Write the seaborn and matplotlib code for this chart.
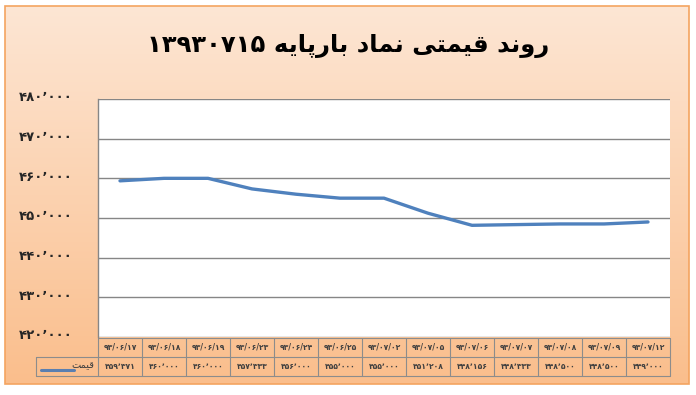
import numpy as np
import pandas as pd
import matplotlib
matplotlib.use("Agg")
import matplotlib.pyplot as plt
import matplotlib.transforms as mtransforms
import seaborn as sns
from matplotlib.patches import Rectangle
from matplotlib.lines import Line2D

# ---------------- data ----------------
title_text = "روند قیمتی نماد بارپایه ۱۳۹۳۰۷۱۵"
legend_label = "قیمت"
dates = ["۹۳/۰۶/۱۷", "۹۳/۰۶/۱۸", "۹۳/۰۶/۱۹", "۹۳/۰۶/۲۳", "۹۳/۰۶/۲۴", "۹۳/۰۶/۲۵",
         "۹۳/۰۷/۰۲", "۹۳/۰۷/۰۵", "۹۳/۰۷/۰۶", "۹۳/۰۷/۰۷", "۹۳/۰۷/۰۸", "۹۳/۰۷/۰۹",
         "۹۳/۰۷/۱۲"]
prices = [459371, 460000, 460000, 457333, 456000, 455000, 455000,
          451208, 448156, 448333, 448500, 448500, 449000]
y_ticks = [420000, 430000, 440000, 450000, 460000, 470000, 480000]

# ---------------- helpers ----------------
FA_DIGITS = str.maketrans("0123456789", "۰۱۲۳۴۵۶۷۸۹")
SEP = "\u066C"


def fa_num(v):
    s = f"{v:,}".replace(",", SEP)
    return s.translate(FA_DIGITS)


# presentation forms: isolated, final, initial, medial
FORMS = {
    "ر": ("\uFEAD", "\uFEAE", None, None),
    "و": ("\uFEED", "\uFEEE", None, None),
    "د": ("\uFEA9", "\uFEAA", None, None),
    "ا": ("\uFE8D", "\uFE8E", None, None),
    "ن": ("\uFEE5", "\uFEE6", "\uFEE7", "\uFEE8"),
    "ق": ("\uFED5", "\uFED6", "\uFED7", "\uFED8"),
    "ی": ("\uFBFC", "\uFBFD", "\uFBFE", "\uFBFF"),
    "م": ("\uFEE1", "\uFEE2", "\uFEE3", "\uFEE4"),
    "ت": ("\uFE95", "\uFE96", "\uFE97", "\uFE98"),
    "ب": ("\uFE8F", "\uFE90", "\uFE91", "\uFE92"),
    "پ": ("\uFB56", "\uFB57", "\uFB58", "\uFB59"),
    "ه": ("\uFEE9", "\uFEEA", "\uFEEB", "\uFEEC"),
}


def joins_forward(ch):
    return ch in FORMS and FORMS[ch][2] is not None


def shape_word(w):
    if not any(c in FORMS for c in w):
        return w
    out = []
    for i, ch in enumerate(w):
        if ch not in FORMS:
            out.append(ch)
            continue
        prev_j = i > 0 and joins_forward(w[i - 1])
        next_j = joins_forward(ch) and i < len(w) - 1 and w[i + 1] in FORMS
        iso, fin, ini, med = FORMS[ch]
        if prev_j and next_j:
            out.append(med)
        elif prev_j:
            out.append(fin)
        elif next_j:
            out.append(ini)
        else:
            out.append(iso)
    return "".join(out)[::-1]


def rtl(text):
    words = text.split(" ")
    return " ".join(shape_word(w) for w in reversed(words))


# ---------------- figure ----------------
sns.set_theme(style="white")
plt.rcParams["font.family"] = ["DejaVu Sans"]

W, H = 696, 395
fig = plt.figure(figsize=(W / 100, H / 100), dpi=100)
fig.patch.set_facecolor("white")

# background panel with gradient
bg = fig.add_axes([0, 0, 1, 1])
bg.set_xlim(0, W)
bg.set_ylim(H, 0)
bg.axis("off")
top = np.array([253, 230, 212]) / 255
bot = np.array([250, 190, 140]) / 255
t = np.linspace(0, 1, 200)[:, None]
grad = top[None, None, :] * (1 - t[..., None]) + bot[None, None, :] * t[..., None]
grad = np.repeat(grad, 2, axis=1)
bg.imshow(grad, extent=[5, 689, 384, 6], aspect="auto", zorder=0, interpolation="bilinear")
bg.add_patch(Rectangle((5, 6), 684, 378, fill=False, edgecolor="#F4A460", lw=1.2, zorder=1))
bg.text(348, 46, rtl(title_text), ha="center", va="center", fontsize=17.5,
        fontweight="heavy", color="black")

# main plot
x0, x1, y0, y1 = 98, 670, 99, 337
ax = fig.add_axes([x0 / W, 1 - y1 / H, (x1 - x0) / W, (y1 - y0) / H])
ax.set_facecolor("white")
df = pd.DataFrame({"idx": np.arange(len(prices)), "price": prices})
sns.lineplot(data=df, x="idx", y="price", ax=ax, color="#4F81BD", linewidth=2.4)
ax.set_xlim(-0.5, len(prices) - 0.5)
ax.set_ylim(y_ticks[0], y_ticks[-1])
ax.set_yticks(y_ticks)
ax.set_yticklabels([fa_num(v) for v in y_ticks], fontsize=9.5, fontweight="bold",
                   color="#262626")
ax.tick_params(axis="y", length=0, pad=18.5)
off = mtransforms.ScaledTranslation(0, 2 / 72, fig.dpi_scale_trans)
for lab in ax.get_yticklabels():
    lab.set_transform(lab.get_transform() + off)
ax.set_xticks([])
ax.set_xlabel("")
ax.set_ylabel("")
for v in y_ticks:
    ax.axhline(v, color="#868686", lw=1, zorder=0)
for s in ["top", "right", "bottom"]:
    ax.spines[s].set_visible(False)
ax.spines["left"].set_color("#868686")
ax.spines["left"].set_linewidth(1)

# data table below the plot (drawn in figure pixel coordinates on bg axes)
n = len(prices)
cw = (x1 - x0) / n
r1a, r1b, r2b = 338, 357, 376
gc = "#8C8C8C"
bg.add_line(Line2D([x0, x1], [r1a, r1a], color=gc, lw=0.8, zorder=3))
bg.add_line(Line2D([36, x1], [r1b, r1b], color=gc, lw=0.8, zorder=3))
bg.add_line(Line2D([36, x1], [r2b, r2b], color=gc, lw=0.8, zorder=3))
bg.add_line(Line2D([36, 36], [r1b, r2b], color=gc, lw=0.8, zorder=3))
for i in range(n + 1):
    xx = x0 + i * cw
    bg.add_line(Line2D([xx, xx], [r1a, r2b], color=gc, lw=0.8, zorder=3))
for i, (d, p) in enumerate(zip(dates, prices)):
    cx = x0 + (i + 0.5) * cw
    bg.text(cx, (r1a + r1b) / 2, d, ha="center", va="center", fontsize=5.5,
            fontweight="bold", color="#404040", zorder=4)
    bg.text(cx, (r1b + r2b) / 2, fa_num(p), ha="center", va="center", fontsize=5.5,
            fontweight="bold", color="#404040", zorder=4)
# legend cell
bg.add_line(Line2D([41, 74], [370, 370], color="#5A7FB0", lw=2.2, zorder=4))
bg.text(94, 365, rtl(legend_label), ha="right", va="center", fontsize=7,
        color="#404040", zorder=4)

fig.savefig("out.png", dpi=100, facecolor="white")
